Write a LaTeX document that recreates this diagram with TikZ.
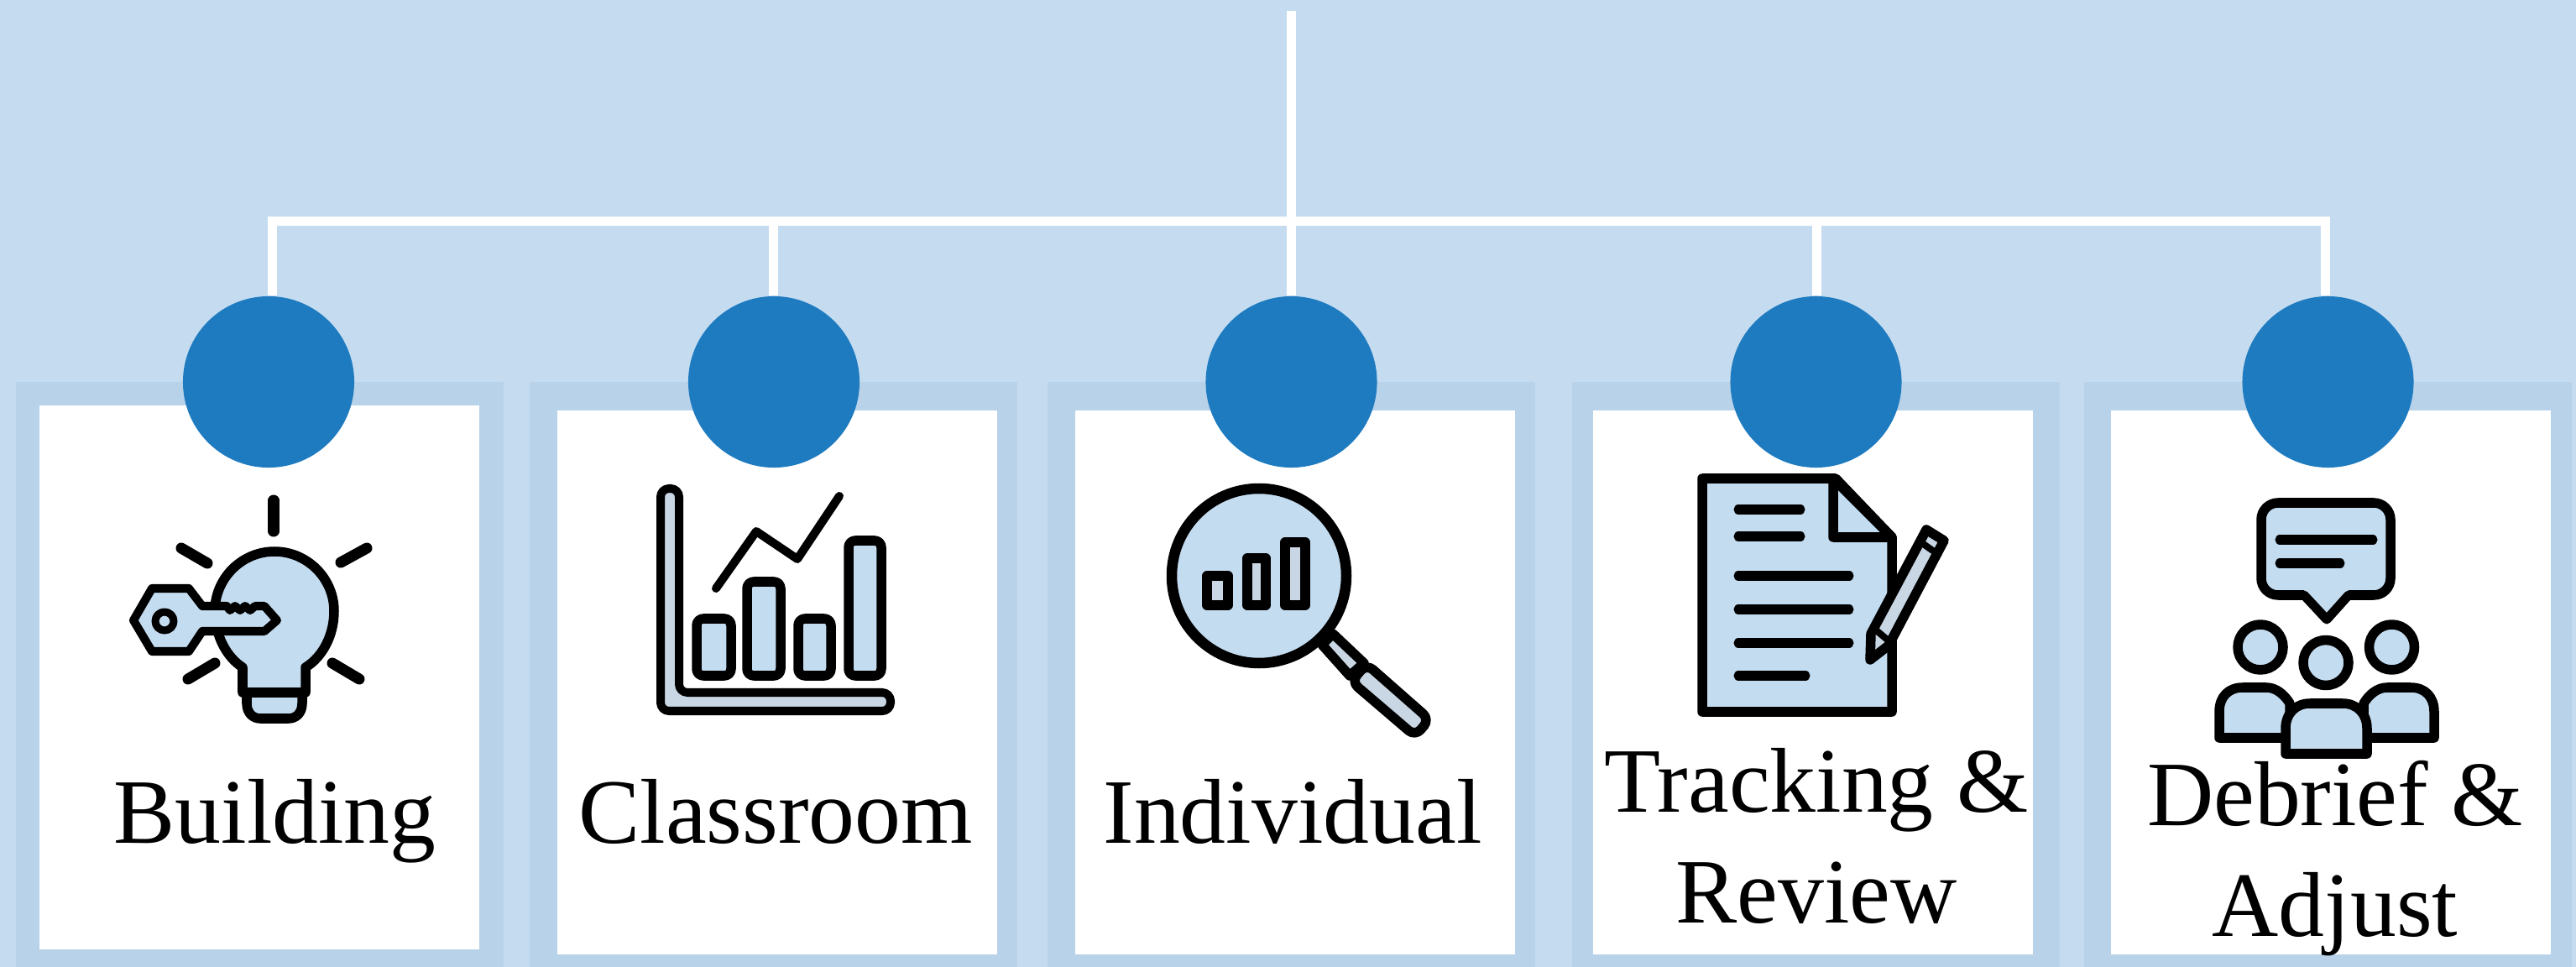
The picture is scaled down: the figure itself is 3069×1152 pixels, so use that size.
\documentclass[tikz,border=0pt]{standalone}
\usepackage{fontspec}
\setmainfont{Liberation Serif}
\definecolor{bgblue}{HTML}{C5DCF0}
\definecolor{bandblue}{HTML}{B8D2E9}
\definecolor{dotblue}{HTML}{1F7BC0}
\definecolor{iconblue}{HTML}{C4DCF0}
\definecolor{icongray}{HTML}{C9D6E3}
\tikzset{
  dot/.style={circle,fill=dotblue,minimum size=2.04cm,inner sep=0pt},
  bus/.style={draw=white,line width=0.11cm},
  caption/.style={anchor=base,inner sep=0pt,align=center,text=black,
    font=\fontsize{31.2}{37.3}\selectfont},
  icon/.style={draw=black,fill=iconblue,line width=0.115cm,line join=round},
  stroke/.style={draw=black,line width=0.11cm,line cap=round},
  thin stroke/.style={draw=black,line width=0.1cm,line cap=round,line join=round},
}
\begin{document}
\begin{tikzpicture}[x=0.01cm,y=-0.01cm]
  \useasboundingbox (0,0) rectangle (3069,1152);
  \fill[bgblue] (0,0) rectangle (3069,1152);

  % panels
  \fill[bandblue] (19,455) rectangle (600,1152);
  \fill[bandblue] (631,455) rectangle (1212,1152);
  \fill[bandblue] (1248,455) rectangle (1829,1152);
  \fill[bandblue] (1873,455) rectangle (2454,1152);
  \fill[bandblue] (2483,455) rectangle (3064,1152);
  \fill[white] (47,483) rectangle (571,1131);
  \fill[white] (664,489) rectangle (1188,1137);
  \fill[white] (1281,489) rectangle (1805,1137);
  \fill[white] (1898,489) rectangle (2422,1137);
  \fill[white] (2515,489) rectangle (3039,1137);

  % tree
  \coordinate (top) at (1538.5,13);
  \coordinate (hub) at (1538.5,263.5);
  \coordinate (leftend) at (324,263.5);
  \coordinate (classbus) at (921.5,263.5);
  \coordinate (trackbus) at (2164,263.5);
  \coordinate (rightend) at (2770,263.5);
  \node[dot] (build) at (320,455) {};
  \node[dot] (class) at (922,455) {};
  \node[dot] (indiv) at (1538.5,455) {};
  \node[dot] (track) at (2163.5,455) {};
  \node[dot] (brief) at (2773.5,455) {};
  \draw[bus,line cap=rect] (leftend) -- (rightend);
  \draw[bus] (top) -- (hub);
  \draw[bus] (hub) -- (indiv.north);
  \draw[bus] (leftend) -- (leftend |- build.north);
  \draw[bus] (classbus) -- (classbus |- class.north);
  \draw[bus] (trackbus) -- (trackbus |- track.north);
  \draw[bus] (rightend) -- (rightend |- brief.north);

  % key and bulb
  \draw[stroke,line width=0.13cm] (326,596) -- (326,633);
  \draw[stroke,line width=0.13cm] (216,653) -- (247,671);
  \draw[stroke,line width=0.13cm] (437,653) -- (406,670);
  \draw[stroke,line width=0.13cm] (224,809) -- (256,790);
  \draw[stroke,line width=0.13cm] (428,809) -- (396,790);
  \draw[icon] (294,825) -- (294,838) .. controls (294,850) and (302,856) .. (310,856)
    -- (344,856) .. controls (352,856) and (360,850) .. (360,838) -- (360,825) -- cycle;
  \draw[icon] (289,825) -- (289,795) .. controls (270,783) and (256,757) .. (256,728)
    .. controls (256,689) and (288,657) .. (327,657)
    .. controls (366,657) and (398,689) .. (398,728)
    .. controls (398,757) and (384,783) .. (364,795) -- (364,825) -- cycle;
  \draw[icon,line width=0.1cm] (159,739) -- (181,701) -- (225,701) -- (241,722)
    -- (270,722) -- (274,727) -- (280,722) -- (286,727) -- (292,722) -- (298,727) -- (304,722) -- (315,722) -- (330,739)
    -- (315,752) -- (241,752) -- (225,776) -- (181,776) -- cycle;
  \draw[icon,line width=0.09cm] (196,740) circle[radius=11];

  % chart
  \draw[icon,fill=icongray,line width=0.1cm,rounded corners=0.1cm]
    (787,847) -- (787,582) -- (809,582) -- (809,825) -- (1061,825) -- (1061,847) -- cycle;
  \draw[icon,rounded corners=0.08cm] (830,737) rectangle (871,805);
  \draw[icon,rounded corners=0.08cm] (890,693) rectangle (930,805);
  \draw[icon,rounded corners=0.08cm] (951,737) rectangle (990,805);
  \draw[icon,rounded corners=0.08cm] (1011,644) rectangle (1050,805);
  \draw[thin stroke] (853,701) -- (901,633) -- (950,666) -- (1000,591);

  % magnifier
  \draw[icon,fill=icongray] (1588,755) -- (1625,790) -- (1608,805) -- (1575,768) -- cycle;
  \draw[icon,fill=icongray,rounded corners=0.1cm] (1610,812) -- (1628,791) -- (1703,857) -- (1686,877) -- cycle;
  \draw[icon,line width=0.125cm] (1500,686) circle[radius=104];
  \draw[icon,fill=icongray] (1438,686) rectangle (1463,721);
  \draw[icon,fill=icongray] (1486,665) rectangle (1508,721);
  \draw[icon,fill=icongray] (1531,646) rectangle (1555,721);

  % document and pencil
  \draw[icon] (2028,570) -- (2187,570) -- (2254,640) -- (2254,848) -- (2028,848) -- cycle;
  \draw[icon] (2184,570) -- (2184,640) -- (2254,640) -- cycle;
  \draw[stroke] (2071,607) -- (2145,607);
  \draw[stroke] (2071,639) -- (2145,639);
  \draw[stroke] (2071,686) -- (2203,686);
  \draw[stroke] (2071,726) -- (2203,726);
  \draw[stroke] (2071,766) -- (2203,766);
  \draw[stroke] (2071,805) -- (2151,805);
  \draw[icon,fill=icongray] (2295,631) -- (2316,644) -- (2250,769) -- (2228,786) -- (2229,755) -- cycle;
  \draw[thin stroke,line width=0.08cm] (2287,645) -- (2307,659);
  \draw[thin stroke,line width=0.08cm] (2233,749) -- (2252,765);

  % group
  \draw[icon,rounded corners=0.2cm] (2745,709) -- (2694,709) -- (2694,599) -- (2848,599) -- (2848,709) -- (2798,709);
  \fill[iconblue] (2745,703) -- (2798,703) -- (2772,732) -- cycle;
  \draw[thin stroke,line width=0.11cm,fill=none] (2745,709) -- (2772,738) -- (2798,709);
  \draw[stroke] (2716,643) -- (2827,643);
  \draw[stroke] (2716,671) -- (2788,671);
  \draw[icon] (2693,771) circle[radius=27];
  \draw[icon] (2849.5,771) circle[radius=27];
  \draw[icon] (2771,789.5) circle[radius=27];
  \draw[icon] (2644,879) -- (2644,848) .. controls (2644,830) and (2655,819) .. (2672,819)
    -- (2700,819) .. controls (2712,819) and (2722,828) .. (2728,838) -- (2728,879) -- cycle;
  \draw[icon] (2900,879) -- (2900,848) .. controls (2900,830) and (2889,819) .. (2872,819)
    -- (2844,819) .. controls (2832,819) and (2822,828) .. (2816,838) -- (2816,879) -- cycle;
  \draw[icon] (2723,898) -- (2723,868) .. controls (2723,850) and (2735,838) .. (2752,838)
    -- (2791,838) .. controls (2808,838) and (2820,850) .. (2820,868) -- (2820,898) -- cycle;

  % captions
  \node[caption] (buildtext) at (327.5,1004) {Building};
  \node[caption] (classtext) at (924,1004) {Classroom};
  \node[caption] (indivtext) at (1540,1004) {Individual};
  \node[caption] (tracktext) at (2164,1099) {Tracking \&\\Review};
  \node[caption] (brieftext) at (2782,1115) {Debrief \&\\Adjust};
\end{tikzpicture}
\end{document}
